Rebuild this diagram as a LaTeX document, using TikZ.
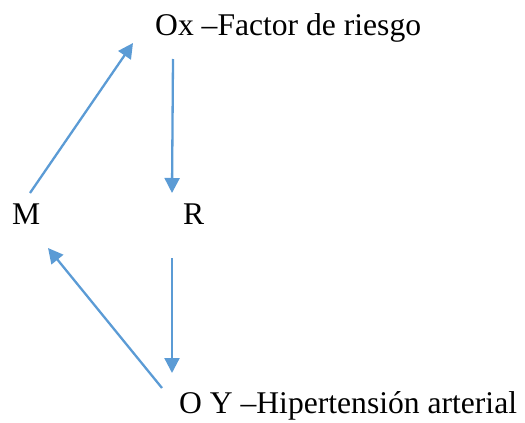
\documentclass[tikz,border=0pt]{standalone}
\usepackage{fontspec}
\setmainfont{Liberation Serif}
\usetikzlibrary{arrows.meta}
\definecolor{arrowblue}{HTML}{5B9BD5}
\begin{document}
\begin{tikzpicture}[x=1pt,y=-1pt,
  lbl/.style={inner sep=0pt,anchor=base west,font=\fontsize{31.6}{38}\selectfont},
  conn/.style={draw=arrowblue,line width=2.3pt,-{Triangle[length=15pt,width=15pt]}}]
\useasboundingbox (0,0) rectangle (525,423);
\node[lbl] (ox) at (155,35) {Ox –Factor de riesgo};
\node[lbl] (m) at (12,224) {M};
\node[lbl] (r) at (183,224) {R};
\node[lbl] (oy) at (179,413) {O Y –Hipertensión arterial};
\coordinate (mA) at (30,193);
\coordinate (oxA) at (133,43);
\coordinate (oxB) at (173,59);
\coordinate (rA) at (172,193);
\coordinate (rB) at (172,258);
\coordinate (oyA) at (172,373);
\coordinate (oyB) at (162,388);
\coordinate (mB) at (48,248);
\draw[conn] (mA) -- (oxA);
\draw[conn] (oxB) -- (rA);
\draw[conn] (rB) -- (oyA);
\draw[conn] (oyB) -- (mB);
\end{tikzpicture}
\end{document}
